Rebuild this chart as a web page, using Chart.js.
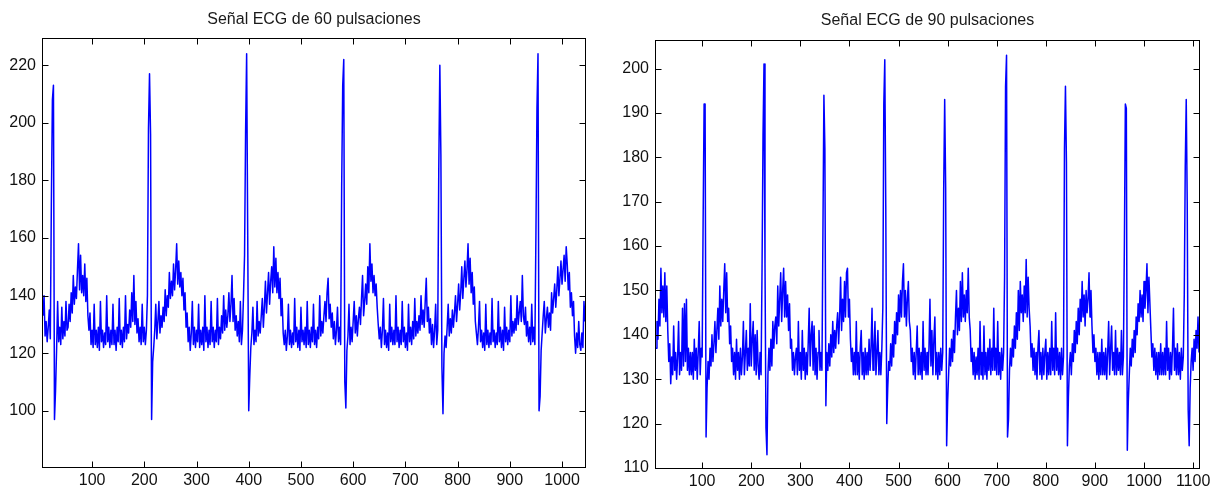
<!DOCTYPE html>
<html>
<head>
<meta charset="utf-8">
<script src="https://cdn.jsdelivr.net/npm/chart.js@4.4.1/dist/chart.umd.min.js"></script>
<style>
  html, body { margin: 0; padding: 0; background: #fff; }
  #wrap { position: relative; width: 1218px; height: 491px; overflow: hidden; }
  canvas { position: absolute; top: 0; }
  #c60 { left: 0; }
  #c90 { left: 609px; }
</style>
</head>
<body>
<div id="wrap">
  <canvas id="c60" width="609" height="491"></canvas>
  <canvas id="c90" width="609" height="491"></canvas>
</div>
<script>
// ---- Titles ----
const title60 = 'Señal ECG de 60 pulsaciones';
const title90 = 'Señal ECG de 90 pulsaciones';

// ---- Sample index of the first value and spacing between stored values ----
const start60 = 6, step60 = 2;
const start90 = 6, step90 = 2;

// ---- Axis limits ----
const xLim60 = [6, 1044];
const yLim60 = [80.5, 229.1];
const xLim90 = [6, 1112];
const yLim90 = [110, 206.2];

// ---- Tick values ----
const xTicks60 = [100, 200, 300, 400, 500, 600, 700, 800, 900, 1000];
const yTicks60 = [100, 120, 140, 160, 180, 200, 220];
const xTicks90 = [100, 200, 300, 400, 500, 600, 700, 800, 900, 1000, 1100];
const yTicks90 = [110, 120, 130, 140, 150, 160, 170, 180, 190, 200];

// ---- ECG at 60 bpm (samples 6..1044, every 2nd sample) ----
const ecg60 = [
  133,140,126,131,124,129,135,125,172,208,213,97,
  107,121,138,124,129,123,136,125,131,126,138,128,
  129,137,131,141,134,147,137,143,139,149,158,142,
  154,141,147,140,151,138,146,133,128,134,123,128,
  122,137,123,128,122,129,121,138,124,128,122,127,
  123,140,124,129,122,128,123,137,123,128,121,129,
  124,139,123,128,122,129,124,140,125,130,127,135,
  129,141,131,147,130,138,127,132,124,129,123,137,
  124,129,123,128,140,198,217,196,97,117,122,128,
  137,125,131,138,127,133,129,136,131,142,133,140,
  136,148,139,145,140,151,142,149,158,144,152,143,
  148,140,146,135,141,129,134,124,129,121,127,138,
  123,129,122,128,124,137,122,128,123,129,121,140,
  124,129,122,128,123,138,124,129,122,128,124,139,
  123,129,125,133,127,140,128,135,129,133,141,131,
  137,147,131,139,128,133,126,131,124,138,123,128,
  140,154,197,224,163,100,112,122,127,136,123,128,
  124,138,126,131,127,133,139,129,136,145,134,141,
  148,137,145,150,141,157,143,153,141,148,139,146,
  133,139,127,123,128,121,126,137,123,128,122,127,
  123,139,124,129,122,128,121,136,124,128,123,129,
  122,138,123,128,122,129,124,137,123,128,122,129,
  125,140,126,131,127,133,138,131,141,146,132,137,
  129,134,125,131,123,128,136,124,129,123,178,213,
  222,110,101,121,126,137,123,129,124,131,138,127,
  133,126,132,136,130,139,147,133,138,144,137,150,
  141,158,145,151,141,147,140,144,136,130,125,129,
  122,128,139,123,128,122,127,121,137,124,129,123,
  128,123,140,124,129,122,128,123,138,124,129,122,
  127,121,137,124,129,123,131,125,139,126,131,127,
  133,128,140,130,135,129,138,146,131,136,127,132,
  123,130,122,128,137,123,128,185,220,189,115,99,
  120,126,122,129,137,126,132,127,135,129,134,140,
  131,137,144,135,141,150,139,146,152,143,149,158,
  144,153,141,148,137,143,131,127,123,129,138,124,
  128,122,127,121,137,123,128,122,127,123,139,124,
  128,122,127,123,138,124,129,122,128,121,136,124,
  129,123,128,124,140,126,131,127,132,128,140,130,
  134,138,131,147,133,130,136,126,131,124,129,123,
  137,124,129,123,161,205,224,100,105,121,127,133,
  138,127,132,136,129,134,128,141,134,139,144,136,
  142,150,140,146,152,144,149,154,145,157,151,142,
  148,136,141,133,138,126,120,127,122,131,123,121,
  127,122,138,131
];

// ---- ECG at 90 bpm (samples 6..1112, every 2nd sample) ----
const ecg90 = [
  137,143,139,148,142,155,145,151,144,154,143,151,
  141,134,138,129,135,131,142,132,136,130,135,143,
  131,136,132,146,133,147,134,148,132,137,131,136,
  131,136,130,139,132,137,130,136,143,131,137,135,
  166,192,192,117,128,134,130,137,133,140,134,138,
  143,136,141,146,139,151,142,148,143,150,156,145,
  154,143,146,138,142,134,137,131,136,130,139,132,
  136,130,137,131,135,143,131,136,141,132,137,133,
  147,133,139,143,132,140,131,141,133,130,136,131,
  155,185,201,156,119,113,131,137,132,139,133,143,
  137,142,144,138,151,142,148,154,143,150,155,144,
  152,144,149,141,147,137,139,132,136,131,135,137,
  131,143,132,136,130,141,132,137,130,136,131,138,
  146,133,140,143,132,142,131,137,130,136,141,132,
  136,132,163,194,182,124,136,132,138,133,140,135,
  143,136,141,137,142,145,138,144,153,141,148,143,
  152,144,154,155,144,148,139,134,137,131,136,131,
  143,131,136,130,137,141,131,136,130,137,131,136,
  131,139,132,137,146,132,137,143,131,136,141,131,
  136,131,137,146,192,202,169,120,128,134,132,138,
  133,140,135,143,138,145,140,149,143,150,144,152,
  156,144,150,142,148,152,143,141,134,137,131,136,
  130,136,142,131,137,131,136,130,143,132,137,131,
  136,131,137,148,133,141,131,139,144,131,136,130,
  136,131,137,132,136,173,193,173,115,125,131,137,
  133,139,134,141,136,144,150,140,146,141,152,143,
  154,144,149,143,150,145,155,144,141,134,137,131,
  136,130,135,131,137,130,143,131,136,130,142,131,
  136,130,137,132,139,131,137,132,146,132,137,131,
  143,131,136,130,137,132,136,153,196,203,117,121,
  132,137,133,139,135,142,137,145,139,150,141,152,
  145,149,143,151,145,157,144,153,146,142,135,138,
  132,137,131,136,130,137,141,131,136,130,137,131,
  136,139,130,136,131,137,131,143,132,137,131,145,
  132,137,131,136,130,137,131,135,182,196,179,115,
  126,133,136,131,138,134,141,136,143,138,146,140,
  148,143,152,144,149,142,150,145,148,154,144,150,
  142,136,140,134,137,131,136,130,136,131,139,131,
  136,131,137,130,136,143,131,137,142,132,136,131,
  141,131,137,132,136,131,141,131,135,160,192,191,
  114,125,131,137,133,139,135,141,136,144,140,147,
  143,150,144,149,143,152,146,150,156,145,153,147,
  141,135,138,132,137,131,136,130,136,131,138,131,
  136,131,137,131,143,132,137,130,136,131,137,146,
  132,137,131,138,131,136,130,137,132,135,149,178,
  193,170,123,115,128,134,137,132,139,134,141,137,
  144,136
];

const FONT_FAMILY = '"Liberation Sans", Arial, Helvetica, sans-serif';

// Box around the axes with inward tick marks on all four sides, plus the title.
const axesFrame = {
  id: 'axesFrame',
  afterDraw(chart, args, opts) {
    const { ctx, chartArea: a, scales: { x, y } } = chart;
    const L = Math.floor(a.left) - 0.5, R = Math.round(a.right) + 0.5;
    const T = Math.floor(a.top) - 0.5, B = Math.round(a.bottom) + 0.5;
    const len = 6;
    ctx.save();
    ctx.strokeStyle = '#000';
    ctx.lineWidth = 1;
    ctx.strokeRect(L, T, R - L, B - T);
    ctx.beginPath();
    x.ticks.forEach(t => {
      const px = Math.round(x.getPixelForValue(t.value)) + 0.5;
      ctx.moveTo(px, B); ctx.lineTo(px, B - len);
      ctx.moveTo(px, T); ctx.lineTo(px, T + len);
    });
    y.ticks.forEach(t => {
      const py = Math.round(y.getPixelForValue(t.value)) + 0.5;
      ctx.moveTo(L, py); ctx.lineTo(L + len, py);
      ctx.moveTo(R, py); ctx.lineTo(R - len, py);
    });
    ctx.stroke();
    ctx.fillStyle = '#1a1a1a';
    ctx.font = '16px ' + FONT_FAMILY;
    ctx.textAlign = 'center';
    ctx.textBaseline = 'middle';
    ctx.fillText(opts.text, (a.left + a.right) / 2, opts.y);
    ctx.restore();
  }
};

function makeChart(id, values, start, step, xLim, yLim, xTicks, yTicks, title, geom) {
  const points = values.map((v, k) => ({ x: start + step * k, y: v }));
  return new Chart(document.getElementById(id), {
    type: 'line',
    data: {
      datasets: [{
        data: points,
        borderColor: '#0000ff',
        borderWidth: 1.5,
        borderJoinStyle: 'round',
        pointRadius: 0,
        tension: 0,
        fill: false
      }]
    },
    options: {
      responsive: false,
      animation: false,
      parsing: false,
      normalized: true,
      events: [],
      layout: { autoPadding: false, padding: { left: 0, top: geom.top, right: geom.right, bottom: 0 } },
      plugins: {
        legend: { display: false },
        tooltip: { enabled: false },
        title: { display: false },
        axesFrame: { text: title, y: geom.titleY }
      },
      scales: {
        x: {
          type: 'linear',
          min: xLim[0], max: xLim[1],
          grid: { display: false, drawTicks: false },
          border: { display: false },
          afterBuildTicks: s => { s.ticks = xTicks.map(v => ({ value: v })); },
          afterFit: s => { s.height = geom.xh; },
          ticks: {
            autoSkip: false, maxRotation: 0, padding: 4,
            color: '#111', font: { family: FONT_FAMILY, size: 16 },
            callback: v => String(v)
          }
        },
        y: {
          type: 'linear',
          min: yLim[0], max: yLim[1],
          grid: { display: false, drawTicks: false },
          border: { display: false },
          afterBuildTicks: s => { s.ticks = yTicks.map(v => ({ value: v })); },
          afterFit: s => { s.width = geom.yw; },
          ticks: {
            autoSkip: false, padding: 7,
            color: '#111', font: { family: FONT_FAMILY, size: 16 },
            callback: v => String(v)
          }
        }
      }
    },
    plugins: [axesFrame]
  });
}

makeChart('c60', ecg60, start60, step60, xLim60, yLim60, xTicks60, yTicks60, title60,
  { top: 39, right: 24, yw: 43, xh: 24, titleY: 20 });
makeChart('c90', ecg90, start90, step90, xLim90, yLim90, xTicks90, yTicks90, title90,
  { top: 41, right: 19, yw: 47, xh: 23, titleY: 21 });
</script>
</body>
</html>
